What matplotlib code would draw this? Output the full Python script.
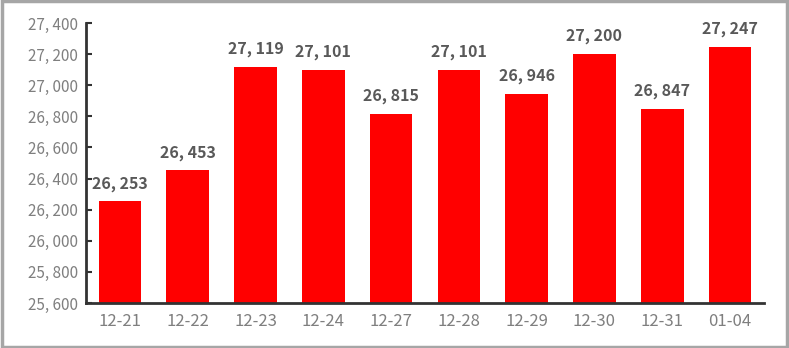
import matplotlib
matplotlib.use('Agg')
import matplotlib.pyplot as plt

plt.rcParams['font.family'] = ['Noto Sans CJK SC', 'DejaVu Sans']

dates = ['12-21', '12-22', '12-23', '12-24', '12-27', '12-28', '12-29', '12-30', '12-31', '01-04']
values = [26253, 26453, 27119, 27101, 26815, 27101, 26946, 27200, 26847, 27247]
y_ticks = list(range(25600, 27401, 200))


def fmt(v):
    return '{:,}'.format(v).replace(',', ', ')


fig = plt.figure(figsize=(7.89, 3.48), dpi=100)
ax = fig.add_axes([86 / 789, 45 / 348, 678 / 789, 280 / 348])

x = range(len(dates))
ax.bar(x, values, width=0.63, color='#ff0000', zorder=2)
for i, v in enumerate(values):
    ax.annotate(fmt(v), (i, v), xytext=(0, 7), textcoords='offset points',
                ha='center', va='bottom', fontsize=11.5,
                fontweight='bold', color='#595959')

ax.set_xlim(-0.5, len(dates) - 0.5)
ax.set_ylim(25600, 27400)
ax.set_yticks(y_ticks)
ax.set_yticklabels([fmt(t) for t in y_ticks])
ax.set_xticks(list(x))
ax.set_xticklabels(dates)
ax.tick_params(axis='y', direction='in', length=4, width=1.5, color='#333333',
               labelsize=11, labelcolor='#7f7f7f', pad=6)
ax.tick_params(axis='x', length=0, labelsize=12, labelcolor='#7f7f7f', pad=7)
for s in ['top', 'right']:
    ax.spines[s].set_visible(False)
for s in ['left', 'bottom']:
    ax.spines[s].set_color('#333333')
    ax.spines[s].set_linewidth(2)

# grey frame around the whole picture
fig.patches.append(plt.Rectangle((0.002, 0.004), 0.996, 0.992, transform=fig.transFigure,
                                 fill=False, edgecolor='#a6a6a6', linewidth=2.5))

fig.savefig('out.png', dpi=100)
